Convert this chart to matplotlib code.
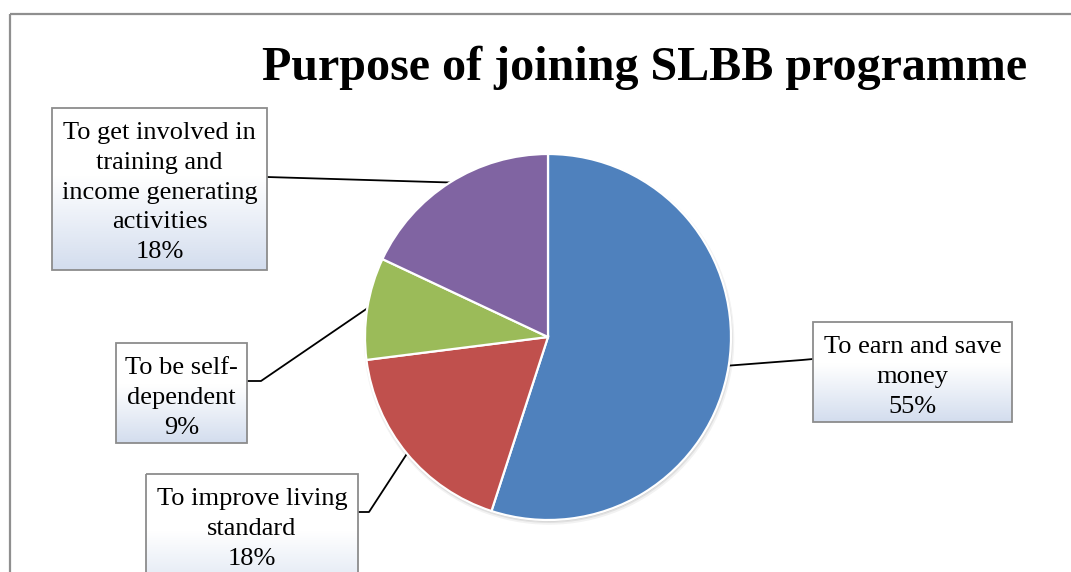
import numpy as np
import matplotlib
matplotlib.use("Agg")
import matplotlib.pyplot as plt
from matplotlib.patches import Rectangle, Circle
from matplotlib.colors import LinearSegmentedColormap

W, H, DPI = 1071, 572, 100
SERIF = ["Liberation Serif", "DejaVu Serif"]

title = "Purpose of joining SLBB programme"
categories = [
    "To earn and save\nmoney",
    "To improve living\nstandard",
    "To be self-\ndependent",
    "To get involved in\ntraining and\nincome generating\nactivities",
]
shares = [55, 18, 9, 18]
colors = ["#4F81BD", "#C0504D", "#9BBB59", "#8064A2"]

# callout boxes in pixel coordinates (left, top, right, bottom), y measured downward
boxes = [(813, 322, 1012, 422), (146, 474, 358, 610), (116, 343, 247, 443), (52, 108, 267, 270)]
# leader line: point where it leaves the box, then the elbow before heading to the slice
attach = [(813, 359), (358, 512), (247, 381), (267, 177)]
elbow = [(802, 360), (369, 512), (261, 381), (267, 177)]

fig = plt.figure(figsize=(W / DPI, H / DPI), dpi=DPI)
fig.patch.set_facecolor("white")

bg = fig.add_axes([0, 0, 1, 1])
bg.axis("off")

# outer chart frame
bg.plot([10, 10], [H + 10, 14], color="#8f8f8f", lw=1.6, solid_capstyle="butt")
bg.plot([10, W + 10], [14, 14], color="#8f8f8f", lw=1.6, solid_capstyle="butt")

# pie
cx, cy, r = 548, 337, 183
pa = fig.add_axes([(cx - r) / W, (H - cy - r) / H, 2 * r / W, 2 * r / H], zorder=2)
pa.patch.set_alpha(0)
for dx, dy, rad, al in [(0.006, -0.014, 1.012, 0.05),
                        (0.004, -0.010, 1.006, 0.07),
                        (0.002, -0.006, 1.002, 0.09)]:
    pa.add_patch(Circle((dx, dy), rad, color="black", alpha=al, lw=0, zorder=0, clip_on=False))
wedges, _ = pa.pie(shares, colors=colors, startangle=90, counterclock=False, radius=1,
                   wedgeprops=dict(edgecolor="white", linewidth=1.6))
for w in wedges:
    w.set_clip_on(False)
    w.set_zorder(1)
pa.set_xlim(-1, 1)
pa.set_ylim(-1, 1)
pa.set_aspect("auto")
pa.axis("off")

bg.set_xlim(0, W)
bg.set_ylim(H, 0)

# gradient fill for callouts
grad_cmap = LinearSegmentedColormap.from_list(
    "callout", [(0.0, "#FFFFFF"), (0.42, "#FFFFFF"), (1.0, "#D3DDEE")])
grad = np.linspace(0, 1, 256).reshape(-1, 1)

to_bg = bg.transData.inverted()
for w, lab, v, (x0, y0, x1, y1), a, e in zip(wedges, categories, shares, boxes, attach, elbow):
    mid = np.deg2rad((w.theta1 + w.theta2) / 2)
    edge_pt = to_bg.transform(pa.transData.transform((np.cos(mid), np.sin(mid))))
    bg.plot([a[0], e[0], edge_pt[0]], [a[1], e[1], edge_pt[1]], color="black", lw=1.3, zorder=1)

    bg.imshow(grad, cmap=grad_cmap, aspect="auto", origin="upper",
              extent=(x0, x1, y1, y0), zorder=2, interpolation="bilinear")
    bg.add_patch(Rectangle((x0, y0), x1 - x0, y1 - y0, fill=False, ec="#8c8c8c", lw=1.3, zorder=3))
    bg.text((x0 + x1) / 2, y0 + 14, f"{lab}\n{v}%", ha="center", va="top", fontsize=19,
            family=SERIF, linespacing=1.46, zorder=4)

bg.text(645, 80, title, ha="center", va="baseline", fontsize=34.6, fontweight="bold", family=SERIF)

bg.set_xlim(0, W)
bg.set_ylim(H, 0)

fig.savefig("out.png", dpi=DPI, facecolor="white")
